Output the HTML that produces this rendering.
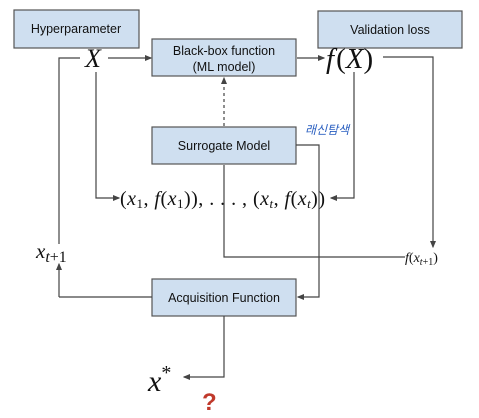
<!DOCTYPE html>
<html><head><meta charset="utf-8"><style>
body{margin:0;background:#fff;}
svg{display:block;}
.box{fill:#cfdff0;stroke:#555;stroke-width:1.2;}
.bt{font-family:"Liberation Sans",sans-serif;font-size:12.5px;fill:#111;text-anchor:middle;}
.m{font-family:"Liberation Serif",serif;font-style:italic;fill:#111;}
.ln{stroke:#444;stroke-width:1.2;fill:none;}
</style></head><body>
<svg width="479" height="418" viewBox="0 0 479 418">
<defs><marker id="a" markerWidth="6" markerHeight="6" refX="5" refY="3" orient="auto"><path d="M0,0.5 L6,3 L0,5.5z" fill="#444"/></marker></defs>
<g><rect class="box" x="14" y="10" width="125" height="38"/><text class="bt" x="76" y="33">Hyperparameter</text></g>
<g><rect class="box" x="318" y="11" width="144" height="37"/><text class="bt" x="390" y="34">Validation loss</text></g>
<g><rect class="box" x="152" y="39" width="144" height="37"/><text class="bt" x="224" y="55">Black-box function</text><text class="bt" x="224" y="71">(ML model)</text></g>
<g><rect class="box" x="152" y="127" width="144" height="37"/><text class="bt" x="224" y="150">Surrogate Model</text></g>
<g><rect class="box" x="152" y="279" width="144" height="37"/><text class="bt" x="224" y="302">Acquisition Function</text></g>
<text class="m" x="85" y="67" font-size="26">X</text>
<text class="m" x="326" y="68" font-size="29">f<tspan font-style="normal" dx="2">(</tspan>X<tspan font-style="normal">)</tspan></text>
<text class="m" x="120" y="205" font-size="20" textLength="205" lengthAdjust="spacing"><tspan font-style="normal">(</tspan>x<tspan font-size="13" font-style="normal" dy="3">1</tspan><tspan dy="-3" font-style="normal">, </tspan>f<tspan font-style="normal">(</tspan>x<tspan font-size="13" font-style="normal" dy="3">1</tspan><tspan dy="-3" font-style="normal">)), . . . , (</tspan>x<tspan font-size="13" dy="3">t</tspan><tspan dy="-3" font-style="normal">, </tspan>f<tspan font-style="normal">(</tspan>x<tspan font-size="13" dy="3">t</tspan><tspan dy="-3" font-style="normal">))</tspan></text>
<text class="m" x="36" y="258" font-size="21">x<tspan font-size="16" dy="4">t</tspan><tspan font-size="16" font-style="normal">+1</tspan></text>
<text class="m" x="405" y="262" font-size="14">f<tspan font-style="normal">(</tspan>x<tspan font-size="10" dy="3">t</tspan><tspan font-size="10" font-style="normal">+1</tspan><tspan dy="-3" font-style="normal">)</tspan></text>
<text class="m" x="148" y="391" font-size="30">x<tspan font-style="normal" font-size="20" dy="-12">*</tspan></text>
<text x="202" y="410" font-family="Liberation Sans,sans-serif" font-weight="bold" font-size="24" fill="#c0392b">?</text>
<text x="305" y="134" font-family="Liberation Sans,'Noto Sans CJK KR',sans-serif" font-size="12" fill="#2a5fc0" font-style="italic">래신탐색</text>
<g>
<path class="ln" d="M108,58 H151" marker-end="url(#a)"/>
<path class="ln" d="M297,58 H324" marker-end="url(#a)"/>
<path class="ln" d="M59,297 H152 M59,297 V264" marker-end="url(#a)"/>
<path class="ln" d="M59,244 V58 H80"/>
<path class="ln" d="M96,72 V198 H119" marker-end="url(#a)"/>
<path class="ln" d="M354,72 V198 H331" marker-end="url(#a)"/>
<path class="ln" d="M224,126 V78" stroke-dasharray="3,3" marker-end="url(#a)"/>
<path class="ln" d="M296,145 H319 V297 H298" marker-end="url(#a)"/>
<path class="ln" d="M224,165 V257 H405"/>
<path class="ln" d="M383,57 H433 V247" marker-end="url(#a)"/>
<path class="ln" d="M224,316 V377 H184" marker-end="url(#a)"/>
</g>
</svg>
</body></html>
